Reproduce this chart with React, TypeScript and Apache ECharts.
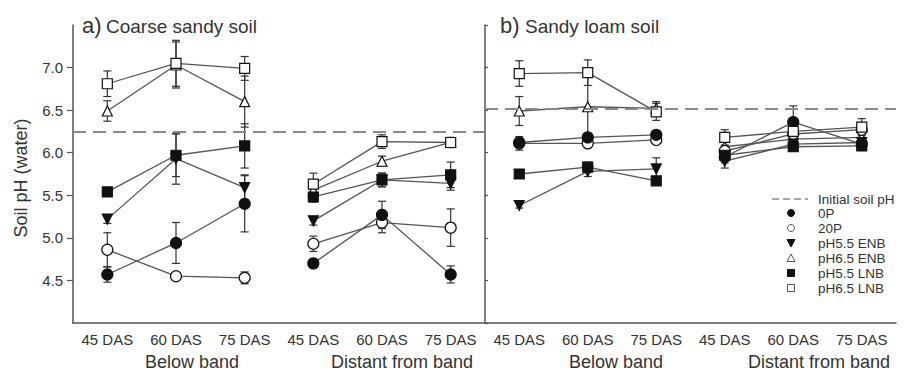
import React, { useEffect, useRef } from "react";
import * as echarts from "echarts";

// ---------- data ----------
const CAT_IDS = ["b45", "b60", "b75", "d45", "d60", "d75"];
const TICK_LABELS = ["45 DAS", "60 DAS", "75 DAS", "45 DAS", "60 DAS", "75 DAS"];
const GROUP_LABELS = ["Below band", "Distant from band"];
const PANEL_LETTERS = ["a)", "b)"];
const PANEL_TITLES = ["Coarse sandy soil", "Sandy loam soil"];
const TREATMENTS = ["0P", "20P", "pH5.5 ENB", "pH6.5 ENB", "pH5.5 LNB", "pH6.5 LNB"];
const LEGEND_LINE_LABEL = "Initial soil pH";
const Y_AXIS_NAME = "Soil pH (water)";
const INITIAL_PH = [6.25, 6.52];

// panel a) Coarse sandy soil : [below 45, 60, 75, distant 45, 60, 75]
const A_0P = [4.57, 4.94, 5.4, 4.7, 5.27, 4.57];
const A_0P_ERR = [0.09, 0.24, 0.33, 0.05, 0.16, 0.1];
const A_20P = [4.86, 4.55, 4.53, 4.93, 5.18, 5.12];
const A_20P_ERR = [0.2, 0.04, 0.07, 0.09, 0.12, 0.22];
const A_ENB55 = [5.22, 5.93, 5.59, 5.2, 5.68, 5.64];
const A_ENB55_ERR = [0.05, 0.3, 0.15, 0.05, 0.08, 0.08];
const A_ENB65 = [6.49, 7.03, 6.6, 5.56, 5.9, 6.12];
const A_ENB65_ERR = [0.12, 0.27, 0.3, 0.08, 0.06, 0.05];
const A_LNB55 = [5.54, 5.97, 6.08, 5.48, 5.68, 5.74];
const A_LNB55_ERR = [0.04, 0.25, 0.26, 0.06, 0.08, 0.15];
const A_LNB65 = [6.81, 7.05, 6.99, 5.63, 6.13, 6.12];
const A_LNB65_ERR = [0.15, 0.27, 0.14, 0.13, 0.08, 0.06];

// panel b) Sandy loam soil
const B_0P = [6.12, 6.18, 6.21, 5.95, 6.36, 6.1];
const B_0P_ERR = [0.05, 0.04, 0.04, 0.07, 0.19, 0.05];
const B_20P = [6.11, 6.11, 6.15, 6.02, 6.22, 6.27];
const B_20P_ERR = [0.08, 0.05, 0.04, 0.06, 0.06, 0.05];
const B_ENB55 = [5.38, 5.78, 5.81, 5.9, 6.1, 6.12];
const B_ENB55_ERR = [0.03, 0.06, 0.13, 0.08, 0.05, 0.05];
const B_ENB65 = [6.49, 6.54, 6.52, 6.07, 6.16, 6.18];
const B_ENB65_ERR = [0.17, 0.35, 0.08, 0.06, 0.05, 0.05];
const B_LNB55 = [5.75, 5.83, 5.67, 5.97, 6.07, 6.08];
const B_LNB55_ERR = [0.03, 0.06, 0.04, 0.06, 0.05, 0.05];
const B_LNB65 = [6.93, 6.94, 6.48, 6.18, 6.25, 6.3];
const B_LNB65_ERR = [0.15, 0.15, 0.1, 0.09, 0.06, 0.1];

const PANELS = [
  {
    values: [A_0P, A_20P, A_ENB55, A_ENB65, A_LNB55, A_LNB65],
    errors: [A_0P_ERR, A_20P_ERR, A_ENB55_ERR, A_ENB65_ERR, A_LNB55_ERR, A_LNB65_ERR],
  },
  {
    values: [B_0P, B_20P, B_ENB55, B_ENB65, B_LNB55, B_LNB65],
    errors: [B_0P_ERR, B_20P_ERR, B_ENB55_ERR, B_ENB65_ERR, B_LNB55_ERR, B_LNB65_ERR],
  },
];

// ---------- styles ----------
const FONT = "'Liberation Sans', Arial, sans-serif";
const INK = "#111";
const LINE = "#555";
const AXIS = "#555";
const TEXT = "#333";
const MARKERS = [
  { symbol: "circle", filled: true, size: 11, rotate: 0 },
  { symbol: "circle", filled: false, size: 11, rotate: 0 },
  { symbol: "triangle", filled: true, size: 10, rotate: 180 },
  { symbol: "triangle", filled: false, size: 10, rotate: 0 },
  { symbol: "rect", filled: true, size: 10, rotate: 0 },
  { symbol: "rect", filled: false, size: 10, rotate: 0 },
];
const DRAW_ORDER = [3, 1, 0, 2, 4, 5];

function buildOption() {
  const grids = [
    { left: 73, top: 25, width: 412, height: 298 },
    { left: 485, top: 25, width: 411, height: 298 },
  ];
  const xAxes = [0, 1].map((p) => ({
    type: "category",
    gridIndex: p,
    data: CAT_IDS,
    boundaryGap: true,
    axisLine: { lineStyle: { color: AXIS, width: 1.5 } },
    axisTick: { alignWithLabel: true, length: 5, lineStyle: { color: AXIS, width: 1.2 } },
    axisLabel: {
      formatter: (_v: string, i: number) => TICK_LABELS[i],
      fontFamily: FONT,
      fontSize: 15,
      color: TEXT,
      margin: 9,
    },
    splitLine: { show: false },
  }));
  const yAxes = [0, 1].map((p) => ({
    type: "value",
    gridIndex: p,
    min: 4,
    max: 7.5,
    interval: 0.5,
    axisLine: { show: true, lineStyle: { color: AXIS, width: 1.5 } },
    axisTick: {
      show: true,
      inside: p === 1,
      length: p === 0 ? 6 : 3,
      lineStyle: { color: AXIS, width: 1.2 },
    },
    axisLabel: {
      show: p === 0,
      showMinLabel: false,
      showMaxLabel: false,
      formatter: (v: number) => v.toFixed(1),
      fontFamily: FONT,
      fontSize: 15,
      color: TEXT,
      margin: 10,
    },
    splitLine: { show: false },
  }));

  const series: any[] = [];
  PANELS.forEach((panel, p) => {
    // error bars
    const errData: number[][] = [];
    panel.values.forEach((vals, t) => {
      vals.forEach((v, i) => {
        const e = panel.errors[t][i];
        errData.push([i, v - e, v + e]);
      });
    });
    series.push({
      type: "custom",
      xAxisIndex: p,
      yAxisIndex: p,
      silent: true,
      z: 2,
      encode: { x: 0, y: [1, 2] },
      data: errData,
      markLine: {
        silent: true,
        symbol: "none",
        label: { show: false },
        lineStyle: { color: "#8a8a8a", width: 2, type: [13, 7] },
        data: [{ yAxis: INITIAL_PH[p] }],
      },
      renderItem: (_params: any, api: any) => {
        const x = api.value(0);
        const lo = api.coord([x, api.value(1)]);
        const hi = api.coord([x, api.value(2)]);
        const w = 4;
        const st = { stroke: "#333", lineWidth: 1.2 };
        return {
          type: "group",
          children: [
            { type: "line", shape: { x1: lo[0], y1: lo[1], x2: hi[0], y2: hi[1] }, style: st },
            { type: "line", shape: { x1: lo[0] - w, y1: lo[1], x2: lo[0] + w, y2: lo[1] }, style: st },
            { type: "line", shape: { x1: hi[0] - w, y1: hi[1], x2: hi[0] + w, y2: hi[1] }, style: st },
          ],
        };
      },
    });
    // lines + markers
    DRAW_ORDER.forEach((t) => {
      const m = MARKERS[t];
      [0, 1].forEach((g) => {
        series.push({
          type: "line",
          name: TREATMENTS[t],
          xAxisIndex: p,
          yAxisIndex: p,
          z: 3,
          silent: true,
          symbol: m.symbol,
          symbolSize: m.size,
          symbolRotate: m.rotate,
          showAllSymbol: true,
          lineStyle: { color: LINE, width: 1.3 },
          itemStyle: {
            color: m.filled ? INK : "#fff",
            borderColor: INK,
            borderWidth: 1.2,
          },
          data: [0, 1, 2].map((k) => [g * 3 + k, panel.values[t][g * 3 + k]]),
        });
      });
    });
  });

  // graphics: titles, group labels, y name, legend
  const graphic: any[] = [];
  const titleX = [[82, 106], [500, 525]];
  [0, 1].forEach((p) => {
    graphic.push({
      type: "text",
      x: titleX[p][0],
      y: 25,
      style: { text: PANEL_LETTERS[p], font: `22px ${FONT}`, fill: TEXT, verticalAlign: "middle" },
    });
    graphic.push({
      type: "text",
      x: titleX[p][1],
      y: 26,
      style: { text: PANEL_TITLES[p], font: `19px ${FONT}`, fill: TEXT, verticalAlign: "middle" },
    });
  });
  const groupX = [192, 402, 616, 819];
  groupX.forEach((gx, i) => {
    graphic.push({
      type: "text",
      x: gx,
      y: 362,
      style: {
        text: GROUP_LABELS[i % 2],
        font: `18px ${FONT}`,
        fill: TEXT,
        align: "center",
        verticalAlign: "middle",
      },
    });
  });
  graphic.push({
    type: "text",
    x: 21,
    y: 178,
    rotation: Math.PI / 2,
    style: {
      text: Y_AXIS_NAME,
      font: `18px ${FONT}`,
      fill: TEXT,
      align: "center",
      verticalAlign: "middle",
    },
  });
  // legend
  const lx = 791;
  const tx = 818;
  graphic.push({
    type: "line",
    shape: { x1: 772, y1: 199, x2: 808, y2: 199 },
    style: { stroke: "#8a8a8a", lineWidth: 1.5, lineDash: [7, 4] },
  });
  graphic.push({
    type: "text",
    x: tx,
    y: 199,
    style: { text: LEGEND_LINE_LABEL, font: `13.5px ${FONT}`, fill: TEXT, verticalAlign: "middle" },
  });
  const rowY = [213, 228, 243, 258, 273, 288];
  TREATMENTS.forEach((name, t) => {
    const y = rowY[t];
    const m = MARKERS[t];
    const st = { fill: m.filled ? INK : "#fff", stroke: m.filled ? INK : "#555", lineWidth: 1 };
    if (m.symbol === "circle") {
      graphic.push({ type: "circle", shape: { cx: lx, cy: y, r: 3.5 }, style: st });
    } else if (m.symbol === "rect") {
      graphic.push({ type: "rect", shape: { x: lx - 3.5, y: y - 3.5, width: 7, height: 7 }, style: st });
    } else if (m.rotate === 180) {
      graphic.push({ type: "polygon", shape: { points: [[lx - 4, y - 3.5], [lx + 4, y - 3.5], [lx, y + 4]] }, style: st });
    } else {
      graphic.push({ type: "polygon", shape: { points: [[lx - 4, y + 3.5], [lx + 4, y + 3.5], [lx, y - 4]] }, style: st });
    }
    graphic.push({
      type: "text",
      x: tx,
      y,
      style: { text: name, font: `13.5px ${FONT}`, fill: TEXT, verticalAlign: "middle" },
    });
  });

  return {
    animation: false,
    backgroundColor: "#fff",
    grid: grids,
    xAxis: xAxes,
    yAxis: yAxes,
    series,
    graphic,
  };
}

export default function App() {
  const ref = useRef<HTMLDivElement>(null);
  useEffect(() => {
    if (!ref.current) return;
    const chart = echarts.init(ref.current, undefined, { renderer: "svg" });
    chart.setOption(buildOption() as any);
    return () => chart.dispose();
  }, []);
  return (
    <div
      ref={ref}
      style={{ position: "fixed", left: 0, top: 0, width: 908, height: 372, background: "#fff" }}
    />
  );
}
